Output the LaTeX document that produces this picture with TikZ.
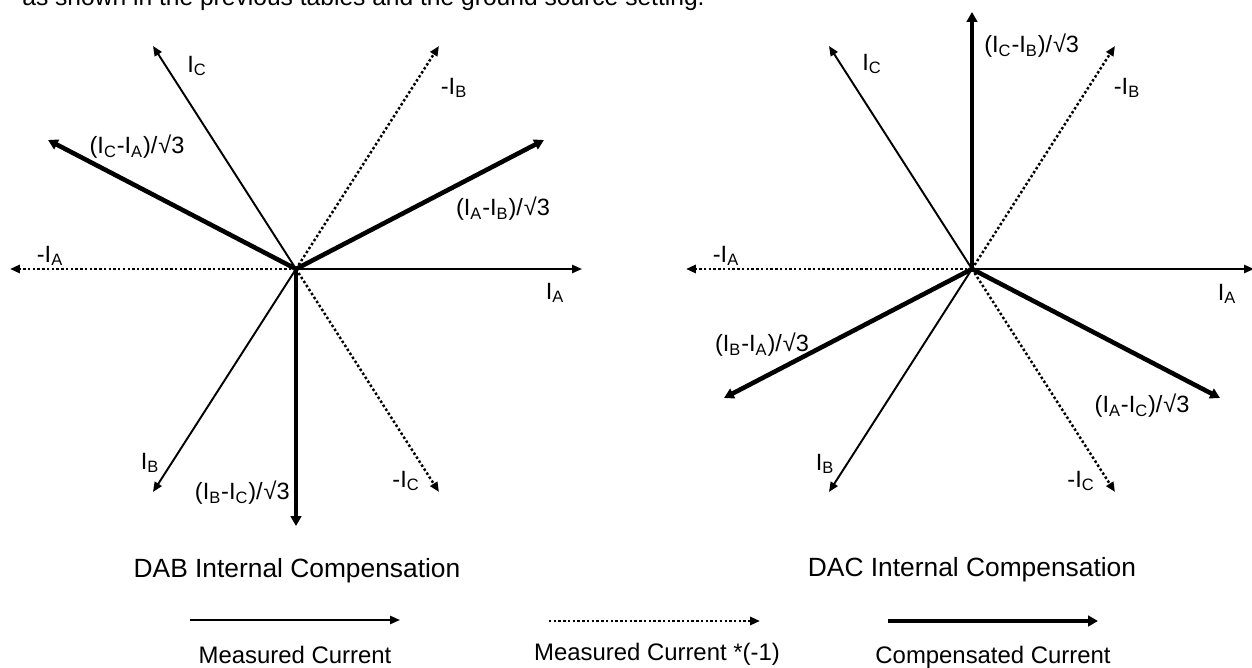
\documentclass[tikz,border=0pt]{standalone}
\usepackage{fontspec}
\setmainfont{Liberation Sans}
\usetikzlibrary{arrows.meta}

\newcommand{\cur}[1]{I\textsubscript{#1}}   % phase current with subscript
\newcommand{\rtt}{/\kern0.5pt\char"221A 3}   % divided by sqrt 3

\begin{document}
\begin{tikzpicture}[
    x=0.02cm, y=-0.02cm,                                                            % one unit = one pixel, y down
    meas/.style={-{Triangle[length=5.6pt, width=4.6pt]}, line width=1.1pt},        % measured current
    negm/.style={-{Triangle[length=5.6pt, width=4.6pt]}, line width=1.4pt,
                 dash pattern=on 1.4pt off 1.3pt},                                  % measured current *(-1)
    comp/.style={-{Triangle[length=5.6pt, width=6pt]}, line width=2.6pt},          % compensated current
    lbl/.style={font=\fontsize{13.4}{15}\selectfont, inner sep=0pt},               % vector labels
    title/.style={font=\fontsize{15}{17}\selectfont, inner sep=0pt, anchor=base},
    key/.style={font=\fontsize{13.6}{16}\selectfont, inner sep=0pt, anchor=base}
]

\useasboundingbox (0,0) rectangle (1252,668);
\clip (0,0) rectangle (1252,668);

% --- TEXT LINE CUT OFF AT THE TOP ---
\node[key, font=\fontsize{14}{16}\selectfont, anchor=base west] (intro) at (22,6)
    {as shown in the previous tables and the ground source setting.};

% --- DAB: CENTRE AND VECTOR TIPS ---
\coordinate (L)    at (296,269);
\coordinate (LIA)  at (582,269);
\coordinate (LnIA) at (10,269);
\coordinate (LIC)  at (153,46);
\coordinate (LnIB) at (439,46);
\coordinate (LIB)  at (153,492);
\coordinate (LnIC) at (439,492);
\coordinate (LAB)  at (544,140);
\coordinate (LCA)  at (48,140);
\coordinate (LBC)  at (296,526);

\draw[negm] (L) -- (LnIA);   % -IA
\draw[negm] (L) -- (LnIB);   % -IB
\draw[negm] (L) -- (LnIC);   % -IC
\draw[meas] (L) -- (LIA);    % IA
\draw[meas] (L) -- (LIB);    % IB
\draw[meas] (L) -- (LIC);    % IC
\draw[comp] (L) -- (LAB);    % (IA-IB)/sqrt3
\draw[comp] (L) -- (LCA);    % (IC-IA)/sqrt3
\draw[comp] (L) -- (LBC);    % (IB-IC)/sqrt3

\node[lbl] (lIA)  at (555,293) {\cur{A}};
\node[lbl] (lnIA) at (50,256)  {-\cur{A}};
\node[lbl] (lIC)  at (197,66)  {\cur{C}};
\node[lbl] (lnIB) at (454,88)  {-\cur{B}};
\node[lbl] (lIB)  at (150,463) {\cur{B}};
\node[lbl] (lnIC) at (406,481) {-\cur{C}};
\node[lbl] (lCA)  at (137,147) {(\cur{C}-\cur{A})\rtt};
\node[lbl] (lAB)  at (503,209) {(\cur{A}-\cur{B})\rtt};
\node[lbl, anchor=east] (lBC) at (290,493) {(\cur{B}-\cur{C})\rtt};

\node[title] (tDAB) at (297,578) {DAB Internal Compensation};

% --- DAC: CENTRE AND VECTOR TIPS ---
\coordinate (R)    at (972,269);
\coordinate (RIA)  at (1254,269);
\coordinate (RnIA) at (686,269);
\coordinate (RIC)  at (829,46);
\coordinate (RnIB) at (1115,46);
\coordinate (RIB)  at (829,492);
\coordinate (RnIC) at (1115,492);
\coordinate (RCB)  at (972,12);
\coordinate (RBA)  at (724,398);
\coordinate (RAC)  at (1220,398);

\draw[negm] (R) -- (RnIA);   % -IA
\draw[negm] (R) -- (RnIB);   % -IB
\draw[negm] (R) -- (RnIC);   % -IC
\draw[meas] (R) -- (RIA);    % IA
\draw[meas] (R) -- (RIB);    % IB
\draw[meas] (R) -- (RIC);    % IC
\draw[comp] (R) -- (RCB);    % (IC-IB)/sqrt3
\draw[comp] (R) -- (RBA);    % (IB-IA)/sqrt3
\draw[comp] (R) -- (RAC);    % (IA-IC)/sqrt3

\node[lbl] (rIA)  at (1227,294) {\cur{A}};
\node[lbl] (rnIA) at (726,256)  {-\cur{A}};
\node[lbl] (rIC)  at (872,64)   {\cur{C}};
\node[lbl] (rnIB) at (1127,88)  {-\cur{B}};
\node[lbl] (rIB)  at (825,464)  {\cur{B}};
\node[lbl] (rnIC) at (1081,481) {-\cur{C}};
\node[lbl, anchor=west] (rCB) at (984,46) {(\cur{C}-\cur{B})\rtt};
\node[lbl] (rBA)  at (762,345)  {(\cur{B}-\cur{A})\rtt};
\node[lbl] (rAC)  at (1142,406) {(\cur{A}-\cur{C})\rtt};

\node[title] (tDAC) at (972,577) {DAC Internal Compensation};

% --- LEGEND ---
\coordinate (k1a) at (190,620);  \coordinate (k1b) at (400,620);
\coordinate (k2a) at (549,621);  \coordinate (k2b) at (760,621);
\coordinate (k3a) at (888,621);  \coordinate (k3b) at (1098,621);

\draw[meas] (k1a) -- (k1b);
\draw[negm] (k2a) -- (k2b);
\draw[comp] (k3a) -- (k3b);

\node[key] (kMeas) at (295,664) {Measured Current};
\node[key] (kNeg)  at (657,661) {Measured Current *(-1)};
\node[key] (kComp) at (993,664) {Compensated Current};

\end{tikzpicture}
\end{document}
